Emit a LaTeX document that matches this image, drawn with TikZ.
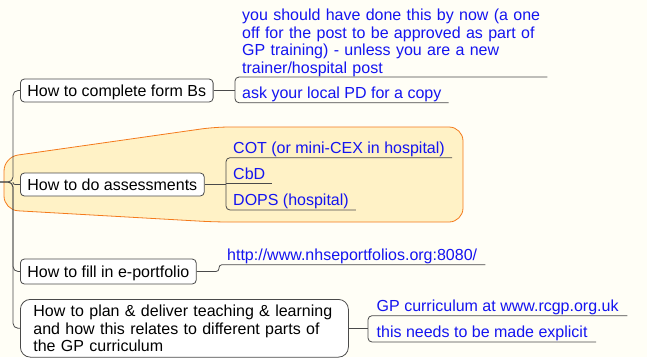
\documentclass[tikz,border=0pt]{standalone}
\usepackage{fontspec}
\setmainfont{Liberation Sans}

\definecolor{paper}{HTML}{FFFEF6}
\definecolor{cloudfill}{HTML}{FFF2C6}
\definecolor{cloudline}{HTML}{F47A1C}
\definecolor{linkgray}{HTML}{4A4A4A}
\definecolor{noteblue}{HTML}{1414F0}

\tikzset{
	topic/.style={draw=linkgray, fill=white, line width=0.8pt, rounded corners=4pt,
		inner xsep=7pt, inner ysep=0pt, anchor=west},
	topicline/.style={topic, text height=11.5pt, text depth=0pt, minimum height=23pt},
	note/.style={text=noteblue, inner xsep=7pt, inner ysep=0pt, anchor=south west},
	noteline/.style={note, text height=11.5pt, text depth=4pt},
	link/.style={draw=linkgray, line width=0.8pt},
}

\begin{document}
\begin{tikzpicture}[x=1pt, y=-1pt, font=\fontsize{16}{17.5}\selectfont]

\def\width{647}
\def\height{357}
\def\sx{13} % spine x
\def\ry{182} % root y

\path [use as bounding box, fill=paper] (0,0) rectangle (\width,\height);

% CLOUD
\draw [cloudline, fill=cloudfill, line width=0.8pt, rounded corners=14pt]
	(463,127) -- (215,127) -- (4,157) -- (4,210) -- (215,222) -- (463,222) -- cycle;

% TOPICS
\node [topicline] (formb) at (20,90.5) {How to complete form Bs};
\node [topicline] (assess) at (20,184.5) {How to do assessments};
\node [topicline, minimum height=25pt] (eport) at (20,271.5) {How to fill in e-portfolio};
\node [topic, anchor=north west, rounded corners=10pt, text width=302pt, align=left,
	inner xsep=13pt, inner ysep=5.5pt] (plan) at (20,299)
	{How to plan \& deliver teaching \& learning\\and how this relates to different parts of\\the GP curriculum};

% NOTES
\node [note, text width=298pt, align=left] (formbA) at (235,77)
	{you should have done this by now (a one\\off for the post to be approved as part of\\GP training) - unless you are a new\\trainer/hospital post};
\node [noteline] (formbB) at (235,102.7) {ask your local PD for a copy};

\node [noteline] (assessA) at (226,157.7) {COT (or mini-CEX in hospital)};
\node [noteline] (assessB) at (226,183.7) {CbD};
\node [noteline] (assessC) at (226,210) {DOPS (hospital)};

\node [noteline, inner xsep=8pt] (eportA) at (219,264.7) {http://www.nhseportfolios.org:8080/};

\node [noteline, inner xsep=8.5pt] (planA) at (368,315.7) {GP curriculum at www.rcgp.org.uk};
\node [noteline, inner xsep=8.5pt] (planB) at (368,342) {this needs to be made explicit};

% SPINE
\coordinate (root) at (0,\ry);
\coordinate (spine) at (\sx,\ry);
\foreach \t in {formb,eport,plan} {
	\draw [link, rounded corners=5pt] (root) -- (spine) |- (\t.west);
}
\draw [link, rounded corners=2pt] (spine) |- (assess.west);

% Function: note bracket
% #1 : topic node
% #2 : first note
% #3 : last note
\newcommand{\notebracket}[3]{%
	\draw [link] (#1.east) -- (#1.east -| #2.south west);
	\draw [link, rounded corners=4pt] (#2.south east) -- (#2.south west)
		-- (#3.south west) -- (#3.south east)%
}
\notebracket{formb}{formbA}{formbB};
\notebracket{assess}{assessA}{assessC};
\draw [link] (assessB.south west) -- (assessB.south east);
\notebracket{plan}{planA}{planB};

% single note
\draw [link, rounded corners=3pt] (eport.east) -| (eportA.south west) -- (eportA.south east);

\end{tikzpicture}
\end{document}
